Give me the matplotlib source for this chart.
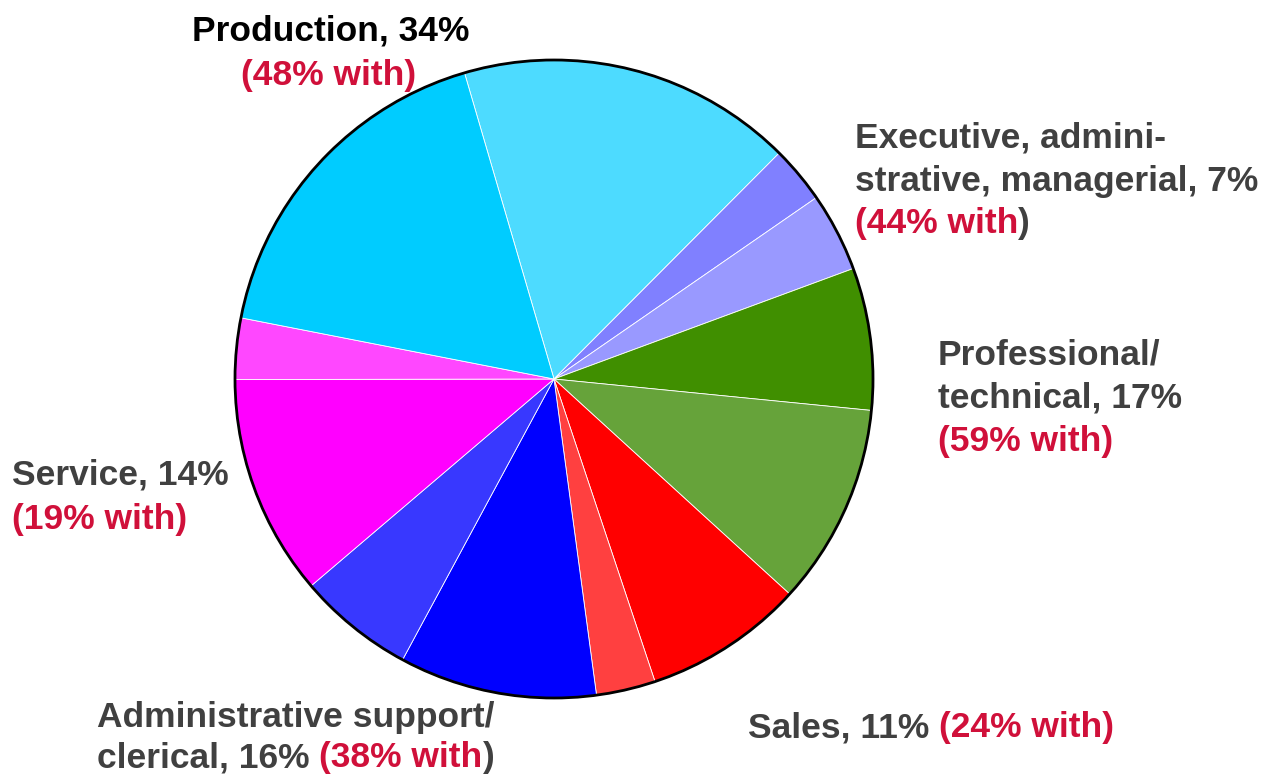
import numpy as np
import matplotlib.pyplot as plt
from matplotlib.patches import Circle

# slices clockwise starting at the Production "with" part (shares of all, %)
slice_vals = [17.0, 2.9, 4.0, 7.2, 10.2, 8.1, 3.0, 10.0, 5.9, 11.2, 3.1, 17.4]
slice_cols = ['#4DDBFF', '#8080FF', '#9999FF', '#408F00', '#66A33A', '#FF0000',
              '#FF4040', '#0000FF', '#3838FF', '#FF00FF', '#FF47FF', '#00CCFF']

categories = ['Production', 'Executive, admini-\nstrative, managerial', 'Professional/\ntechnical',
              'Sales', 'Administrative support/\nclerical', 'Service']
shares = [34, 7, 17, 11, 16, 14]
with_pct = [48, 44, 59, 24, 38, 19]

GRAY = '#404040'
RED = '#D0103A'
W, H = 1265, 777

fig = plt.figure(figsize=(W / 100, H / 100), dpi=100)
cx, cy, r = 554, 379, 319
ax = fig.add_axes([(cx - r) / W, (H - cy - r) / H, 2 * r / W, 2 * r / H])
ax.pie(slice_vals, colors=slice_cols, startangle=106.3, counterclock=False,
       wedgeprops=dict(edgecolor='white', linewidth=0.6))
ax.add_patch(Circle((0, 0), 1, fill=False, edgecolor='black', linewidth=2,
                    zorder=5, clip_on=False))
ax.set_xlim(-1, 1)
ax.set_ylim(-1, 1)
ax.set_aspect('equal')
ax.axis('off')

fig.canvas.draw()
rend = fig.canvas.get_renderer()


def line(x, y, pieces, size=25.5, family='Liberation Sans', ha='left'):
    # pieces: list of (string, colour); x,y in pixels from top-left, y = text centre
    texts = []
    for s, c in pieces:
        t = fig.text(0, 0, s, color=c, fontsize=size, fontweight='bold',
                     family=family, va='center', transform=None)
        texts.append(t)
    widths = [t.get_window_extent(rend).width for t in texts]
    total = sum(widths)
    xs = x - total / 2 if ha == 'center' else x
    for t, w in zip(texts, widths):
        t.set_position((xs, H - y))
        xs += w


line(331, 31, [(f'{categories[0]}, {shares[0]}%', 'black')], ha='center')
line(329, 75, [(f'({with_pct[0]}% with)', RED)], ha='center')

exec_lines = categories[1].split('\n')
line(855, 138, [(exec_lines[0], GRAY)])
line(855, 182, [(f'{exec_lines[1]}, {shares[1]}%', GRAY)])
line(855, 224, [(f'({with_pct[1]}% with', RED), (')', GRAY)])

prof_lines = categories[2].split('\n')
line(938, 355, [(prof_lines[0], GRAY)])
line(938, 398, [(f'{prof_lines[1]}, {shares[2]}%', GRAY)])
line(938, 441, [(f'({with_pct[2]}% with)', RED)])

line(12, 475, [(f'{categories[5]}, {shares[5]}%', GRAY)])
line(12, 520, [(f'({with_pct[5]}% with)', RED)])

nar = ['Liberation Sans Narrow', 'Liberation Sans']
adm_lines = categories[4].split('\n')
line(97, 718, [(adm_lines[0], GRAY)], family=nar)
line(97, 758, [(f'{adm_lines[1]}, {shares[4]}% ', GRAY), (f'({with_pct[4]}% with', RED), (')', GRAY)], family=nar)

line(748, 728, [(f'{categories[3]}, {shares[3]}% ', GRAY), (f'({with_pct[3]}% with)', RED)], family=nar)

fig.savefig('out.png', dpi=100)
